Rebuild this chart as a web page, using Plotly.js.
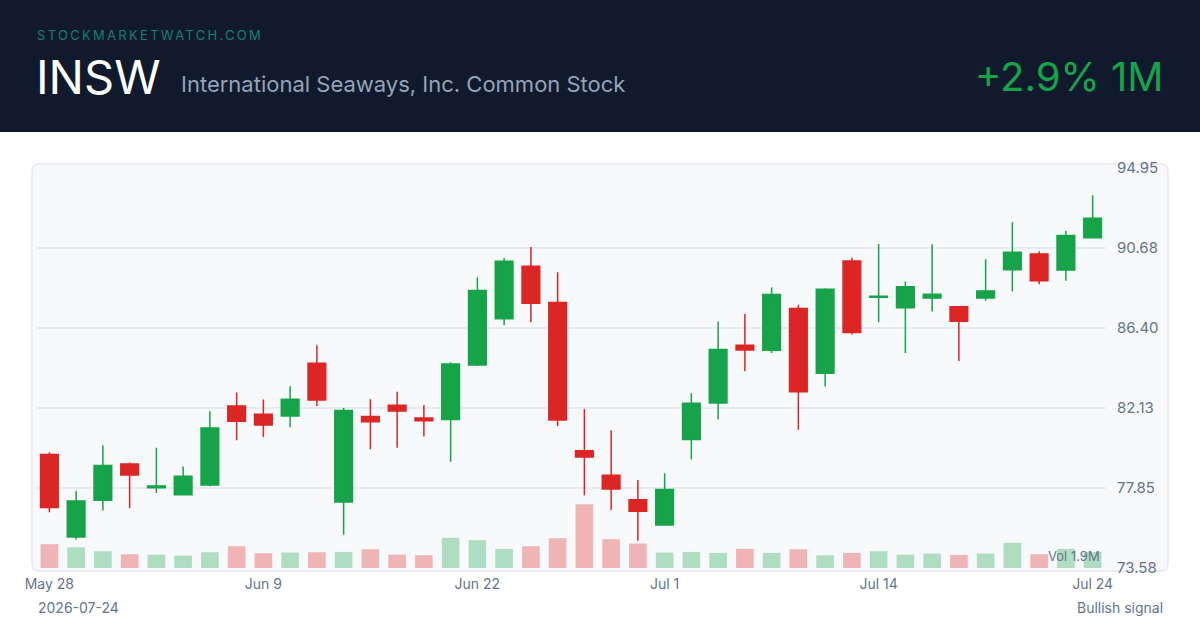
<!DOCTYPE html>
<html>
<head>
<meta charset="utf-8">
<script src="https://cdn.plot.ly/plotly-3.0.1.min.js"></script>
<style>
  html, body { margin: 0; padding: 0; background: #ffffff; }
  #chart { width: 1200px; height: 630px; }
</style>
</head>
<body>
<div id="chart"></div>
<script>
// ---- Data ----
const dates = [
  "2026-05-28","2026-05-29","2026-06-01","2026-06-02","2026-06-03","2026-06-04","2026-06-05",
  "2026-06-08","2026-06-09","2026-06-10","2026-06-11","2026-06-12","2026-06-15","2026-06-16",
  "2026-06-17","2026-06-18","2026-06-22","2026-06-23","2026-06-24","2026-06-25","2026-06-26",
  "2026-06-29","2026-06-30","2026-07-01","2026-07-02","2026-07-06","2026-07-07","2026-07-08",
  "2026-07-09","2026-07-10","2026-07-13","2026-07-14","2026-07-15","2026-07-16","2026-07-17",
  "2026-07-20","2026-07-21","2026-07-22","2026-07-23","2026-07-24"
];
const openP  = [79.64,75.24,77.20,79.14,77.87,77.50,78.02,82.24,81.79,81.70,84.52,77.11,81.67,82.27,81.60,81.51,84.43,86.90,89.70,87.76,79.85,78.53,77.23,75.88,80.44,82.40,85.48,85.21,87.44,83.98,89.98,88.04,87.49,88.01,87.54,88.01,89.52,90.36,89.50,91.23];
const highP  = [79.76,77.70,80.14,79.21,80.00,79.00,81.95,82.95,82.58,83.29,85.48,82.13,82.60,82.99,82.29,84.57,89.11,90.14,90.73,89.38,82.08,80.94,78.28,78.64,82.91,86.75,87.15,88.56,87.65,88.52,90.16,90.89,88.88,90.87,87.58,90.07,92.05,90.50,91.59,93.49];
const lowP   = [76.56,75.10,76.65,76.77,77.59,77.46,77.95,80.40,80.58,81.10,82.24,75.36,79.92,80.01,80.60,79.26,84.37,86.55,86.71,81.17,77.46,76.68,75.04,75.88,79.37,81.51,84.09,85.07,80.97,83.27,86.05,86.71,85.07,87.28,84.64,87.86,88.35,88.74,88.92,91.23];
const closeP = [76.81,77.16,79.05,78.55,77.96,78.48,81.06,81.42,81.22,82.60,82.56,81.99,81.40,81.97,81.45,84.48,88.40,89.97,87.72,81.49,79.51,77.80,76.61,77.77,82.38,85.25,85.23,88.19,82.99,88.47,86.16,88.10,88.61,88.20,86.76,88.38,90.45,88.92,91.34,92.26];
const volumeM = [0.71,0.62,0.50,0.41,0.40,0.37,0.47,0.65,0.44,0.46,0.47,0.48,0.56,0.40,0.38,0.90,0.83,0.57,0.65,0.89,1.90,0.86,0.73,0.46,0.48,0.45,0.57,0.45,0.56,0.38,0.45,0.50,0.40,0.43,0.39,0.43,0.75,0.41,0.57,0.48];

const xTickVals = ["2026-05-28","2026-06-09","2026-06-22","2026-07-01","2026-07-14","2026-07-24"];
const xTickText = ["May 28","Jun 9","Jun 22","Jul 1","Jul 14","Jul 24"];
const yTickVals = [73.58,77.85,82.13,86.40,90.68,94.95];
const yTickText = ["73.58","77.85","82.13","86.40","90.68","94.95"];

const ticker = "INSW";
const companyName = "International Seaways, Inc. Common Stock";
const siteName = "STOCKMARKETWATCH.COM";
const changeText = "+2.9% 1M";
const dateText = "2026-07-24";
const signalText = "Bullish signal";

// ---- Styling / layout ----
const GREEN = "#16a34a", RED = "#dc2626";
const FONT = "Inter, 'Noto Sans', sans-serif";
const L = 36, R = 1106, T = 168, B = 568;
const px = p => (p - L) / (R - L);
const py = p => (B - p) / (B - T);

const volColors = closeP.map((c, i) => c >= openP[i] ? "rgba(22,163,74,0.32)" : "rgba(220,38,38,0.32)");
const maxVol = Math.max(...volumeM);

const volTrace = {
  type: "bar", x: dates, y: volumeM, yaxis: "y2",
  marker: { color: volColors, line: { width: 0 } },
  width: 0.66, hoverinfo: "skip", showlegend: false
};
const candleTrace = {
  type: "candlestick", x: dates, open: openP, high: highP, low: lowP, close: closeP,
  increasing: { line: { color: GREEN, width: 1.5 }, fillcolor: GREEN },
  decreasing: { line: { color: RED, width: 1.5 }, fillcolor: RED },
  whiskerwidth: 0, showlegend: false
};

function roundRect(x0, y0, x1, y1, r) {
  return `M ${px(x0 + r)},${py(y0)} L ${px(x1 - r)},${py(y0)} Q ${px(x1)},${py(y0)} ${px(x1)},${py(y0 + r)} ` +
         `L ${px(x1)},${py(y1 - r)} Q ${px(x1)},${py(y1)} ${px(x1 - r)},${py(y1)} ` +
         `L ${px(x0 + r)},${py(y1)} Q ${px(x0)},${py(y1)} ${px(x0)},${py(y1 - r)} ` +
         `L ${px(x0)},${py(y0 + r)} Q ${px(x0)},${py(y0)} ${px(x0 + r)},${py(y0)} Z`;
}

const layout = {
  width: 1200, height: 630,
  margin: { l: L, r: 1200 - R, t: T, b: 630 - B, pad: 0 },
  paper_bgcolor: "#ffffff",
  plot_bgcolor: "rgba(0,0,0,0)",
  font: { family: FONT, color: "#64748b" },
  showlegend: false,
  boxgap: 0.34, boxgroupgap: 0,
  xaxis: {
    type: "category", categoryorder: "array", categoryarray: dates,
    range: [-0.5, dates.length - 0.5],
    tickvals: xTickVals, ticktext: xTickText,
    showgrid: false, zeroline: false, showline: false,
    ticks: "", ticklabelstandoff: 6,
    tickfont: { family: FONT, size: 14, color: "#64748b" },
    rangeslider: { visible: false }, fixedrange: true
  },
  yaxis: {
    range: [73.58, 94.95], side: "right",
    tickvals: yTickVals, ticktext: yTickText,
    showgrid: true, gridcolor: "#e8ebf1", gridwidth: 1.5,
    zeroline: false, showline: false, ticks: "", ticklabelstandoff: 10,
    tickfont: { family: FONT, size: 15, color: "#64748b" },
    fixedrange: true
  },
  yaxis2: {
    overlaying: "y", range: [0, maxVol / 63.7 * 400], visible: false, fixedrange: true
  },
  shapes: [
    { type: "rect", xref: "paper", yref: "paper", x0: px(0), x1: px(1200), y0: py(0), y1: py(132),
      fillcolor: "#111a2d", line: { width: 0 }, layer: "below" },
    { type: "path", xref: "paper", yref: "paper", path: roundRect(32, 164, 1168, 571, 7),
      fillcolor: "#f8f9fb", line: { color: "#e6e9ef", width: 1.5 }, layer: "below" }
  ],
  annotations: [
    { xref: "paper", yref: "paper", x: px(35), y: py(35), xanchor: "left", yanchor: "middle", showarrow: false,
      text: `<span style="letter-spacing:2.3px">${siteName}</span>`,
      font: { family: FONT, size: 13, color: "#13806b" } },
    { xref: "paper", yref: "paper", x: px(34), y: py(76), xanchor: "left", yanchor: "middle", showarrow: false,
      text: ticker, font: { family: FONT, size: 47, color: "#ffffff", weight: 400 } },
    { xref: "paper", yref: "paper", x: px(179), y: py(84), xanchor: "left", yanchor: "middle", showarrow: false,
      text: companyName, font: { family: FONT, size: 22, color: "#94a3b8" } },
    { xref: "paper", yref: "paper", x: px(1166), y: py(77), xanchor: "right", yanchor: "middle", showarrow: false,
      text: changeText, font: { family: FONT, size: 40, color: GREEN } },
    { xref: "paper", yref: "paper", x: px(1102), y: py(556), xanchor: "right", yanchor: "middle", showarrow: false,
      text: "Vol " + maxVol.toFixed(1) + "M", font: { family: FONT, size: 13, color: "#64748b" } },
    { xref: "paper", yref: "paper", x: px(36), y: py(607), xanchor: "left", yanchor: "middle", showarrow: false,
      text: dateText, font: { family: FONT, size: 14, color: "#64748b" } },
    { xref: "paper", yref: "paper", x: px(1165), y: py(607), xanchor: "right", yanchor: "middle", showarrow: false,
      text: signalText, font: { family: FONT, size: 14, color: "#64748b" } }
  ]
};

Plotly.newPlot("chart", [volTrace, candleTrace], layout, { displayModeBar: false, staticPlot: true });
</script>
</body>
</html>
